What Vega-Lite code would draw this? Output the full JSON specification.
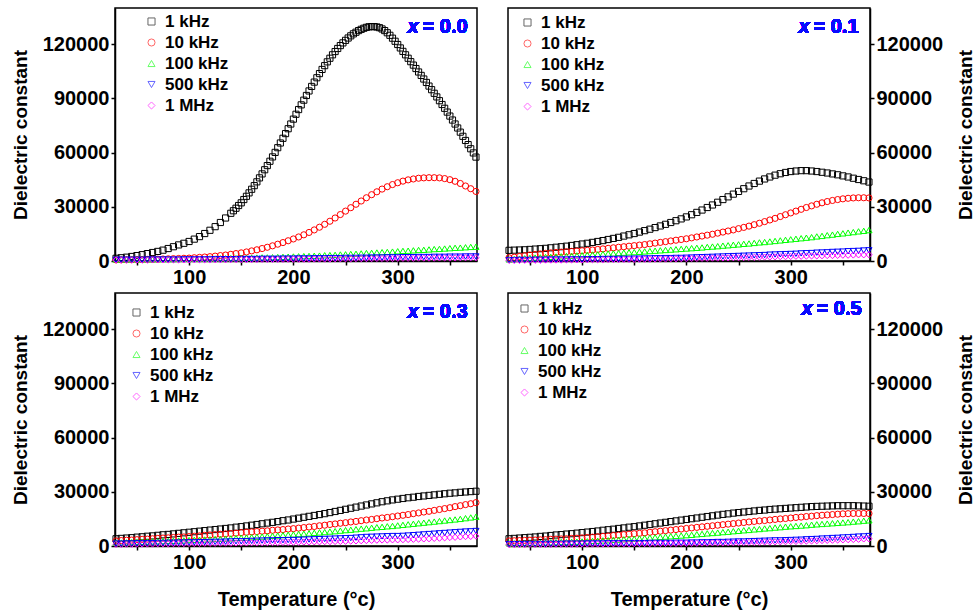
{
"$schema":"https://vega.github.io/schema/vega-lite/v6.json",
"padding":{"left":10,"top":7,"right":1,"bottom":4},
"background":"white",
"config":{
"font":"Liberation Sans",
"view":{"stroke":"#000","strokeWidth":1.5},
"axis":{"labelFont":"Liberation Sans","labelFontWeight":"bold","labelFontSize":20,"titleFont":"Liberation Sans","titleFontWeight":"bold","titleFontSize":19,"tickSize":4,"tickWidth":1.5,"domainWidth":1.5,"domainColor":"#000","tickColor":"#000","labelColor":"#000","titleColor":"#000","labelPadding":2,"grid":false,"labelFlush":false,"labelOverlap":false,"labelBound":false},
"legend":{"orient":"none","title":null,"labelFont":"Liberation Sans","labelFontWeight":"bold","labelFontSize":17,"labelColor":"#000","symbolSize":50,"symbolStrokeWidth":1,"symbolOpacity":0.6,"rowPadding":3,"labelOffset":5,"padding":0}
},
"datasets":{
"p0":[
{"f":"1 kHz","T":30,"e":1500},{"f":"1 kHz","T":35,"e":1800},{"f":"1 kHz","T":40,"e":2100},{"f":"1 kHz","T":45,"e":2500},{"f":"1 kHz","T":50,"e":3000},{"f":"1 kHz","T":55,"e":3500},{"f":"1 kHz","T":60,"e":4100},{"f":"1 kHz","T":65,"e":4700},{"f":"1 kHz","T":70,"e":5300},{"f":"1 kHz","T":75,"e":6000},
{"f":"1 kHz","T":80,"e":6900},{"f":"1 kHz","T":85,"e":7900},{"f":"1 kHz","T":90,"e":8900},{"f":"1 kHz","T":95,"e":9800},{"f":"1 kHz","T":100,"e":10800},{"f":"1 kHz","T":105,"e":12100},{"f":"1 kHz","T":110,"e":13500},{"f":"1 kHz","T":115,"e":15200},{"f":"1 kHz","T":120,"e":17000},{"f":"1 kHz","T":125,"e":19000},
{"f":"1 kHz","T":130,"e":21300},{"f":"1 kHz","T":135,"e":23800},{"f":"1 kHz","T":140,"e":26400},{"f":"1 kHz","T":145,"e":29200},{"f":"1 kHz","T":150,"e":32200},{"f":"1 kHz","T":155,"e":35800},{"f":"1 kHz","T":160,"e":39700},{"f":"1 kHz","T":165,"e":43800},{"f":"1 kHz","T":170,"e":48200},{"f":"1 kHz","T":175,"e":52800},
{"f":"1 kHz","T":180,"e":57600},{"f":"1 kHz","T":185,"e":62700},{"f":"1 kHz","T":190,"e":67900},{"f":"1 kHz","T":195,"e":73200},{"f":"1 kHz","T":200,"e":78500},{"f":"1 kHz","T":205,"e":83800},{"f":"1 kHz","T":210,"e":89000},{"f":"1 kHz","T":215,"e":94100},{"f":"1 kHz","T":220,"e":99000},{"f":"1 kHz","T":225,"e":103700},
{"f":"1 kHz","T":230,"e":108100},{"f":"1 kHz","T":235,"e":112200},{"f":"1 kHz","T":240,"e":115900},{"f":"1 kHz","T":245,"e":119200},{"f":"1 kHz","T":250,"e":122100},{"f":"1 kHz","T":255,"e":124600},{"f":"1 kHz","T":260,"e":126600},{"f":"1 kHz","T":265,"e":128200},{"f":"1 kHz","T":270,"e":129300},{"f":"1 kHz","T":275,"e":129700},
{"f":"1 kHz","T":280,"e":129500},{"f":"1 kHz","T":285,"e":128400},{"f":"1 kHz","T":290,"e":126300},{"f":"1 kHz","T":295,"e":123300},{"f":"1 kHz","T":300,"e":119800},{"f":"1 kHz","T":305,"e":116000},{"f":"1 kHz","T":310,"e":112200},{"f":"1 kHz","T":315,"e":108400},{"f":"1 kHz","T":320,"e":104600},{"f":"1 kHz","T":325,"e":100700},
{"f":"1 kHz","T":330,"e":96800},{"f":"1 kHz","T":335,"e":92800},{"f":"1 kHz","T":340,"e":88700},{"f":"1 kHz","T":345,"e":84500},{"f":"1 kHz","T":350,"e":80200},{"f":"1 kHz","T":355,"e":75800},{"f":"1 kHz","T":360,"e":71300},{"f":"1 kHz","T":365,"e":66700},{"f":"1 kHz","T":370,"e":62100},{"f":"1 kHz","T":375,"e":57500},
{"f":"1 kHz","T":142.5,"e":27800},{"f":"1 kHz","T":147.5,"e":30700},{"f":"1 kHz","T":152.5,"e":34000},{"f":"1 kHz","T":157.5,"e":37700},{"f":"1 kHz","T":162.5,"e":41700},{"f":"1 kHz","T":167.5,"e":46000},{"f":"1 kHz","T":172.5,"e":50500},{"f":"1 kHz","T":177.5,"e":55200},{"f":"1 kHz","T":182.5,"e":60100},{"f":"1 kHz","T":187.5,"e":65300},
{"f":"1 kHz","T":192.5,"e":70500},{"f":"1 kHz","T":197.5,"e":75800},{"f":"1 kHz","T":202.5,"e":81200},{"f":"1 kHz","T":207.5,"e":86400},{"f":"1 kHz","T":212.5,"e":91600},{"f":"1 kHz","T":217.5,"e":96600},{"f":"1 kHz","T":222.5,"e":101400},{"f":"1 kHz","T":227.5,"e":106000},{"f":"1 kHz","T":232.5,"e":110200},{"f":"1 kHz","T":237.5,"e":114100},
{"f":"1 kHz","T":242.5,"e":117600},{"f":"1 kHz","T":247.5,"e":120700},{"f":"1 kHz","T":252.5,"e":123400},{"f":"1 kHz","T":257.5,"e":125700},{"f":"1 kHz","T":262.5,"e":127500},{"f":"1 kHz","T":267.5,"e":128800},{"f":"1 kHz","T":272.5,"e":129600},{"f":"1 kHz","T":277.5,"e":129700},{"f":"1 kHz","T":282.5,"e":129100},{"f":"1 kHz","T":287.5,"e":127500},
{"f":"1 kHz","T":292.5,"e":124900},{"f":"1 kHz","T":297.5,"e":121600},{"f":"1 kHz","T":302.5,"e":117900},{"f":"1 kHz","T":307.5,"e":114100},{"f":"1 kHz","T":312.5,"e":110300},{"f":"1 kHz","T":317.5,"e":106500},{"f":"1 kHz","T":322.5,"e":102700},{"f":"1 kHz","T":327.5,"e":98800},{"f":"1 kHz","T":332.5,"e":94800},{"f":"1 kHz","T":337.5,"e":90800},
{"f":"1 kHz","T":342.5,"e":86600},{"f":"1 kHz","T":347.5,"e":82400},{"f":"1 kHz","T":352.5,"e":78000},{"f":"1 kHz","T":357.5,"e":73600},{"f":"1 kHz","T":362.5,"e":69000},{"f":"1 kHz","T":367.5,"e":64400},{"f":"1 kHz","T":372.5,"e":59800},
{"f":"10 kHz","T":30,"e":600},{"f":"10 kHz","T":35,"e":650},{"f":"10 kHz","T":40,"e":700},{"f":"10 kHz","T":45,"e":750},{"f":"10 kHz","T":50,"e":800},{"f":"10 kHz","T":55,"e":850},{"f":"10 kHz","T":60,"e":900},{"f":"10 kHz","T":65,"e":950},{"f":"10 kHz","T":70,"e":1000},{"f":"10 kHz","T":75,"e":1100},
{"f":"10 kHz","T":80,"e":1200},{"f":"10 kHz","T":85,"e":1300},{"f":"10 kHz","T":90,"e":1400},{"f":"10 kHz","T":95,"e":1500},{"f":"10 kHz","T":100,"e":1600},{"f":"10 kHz","T":105,"e":1800},{"f":"10 kHz","T":110,"e":2000},{"f":"10 kHz","T":115,"e":2200},{"f":"10 kHz","T":120,"e":2400},{"f":"10 kHz","T":125,"e":2700},
{"f":"10 kHz","T":130,"e":3000},{"f":"10 kHz","T":135,"e":3300},{"f":"10 kHz","T":140,"e":3700},{"f":"10 kHz","T":145,"e":4100},{"f":"10 kHz","T":150,"e":4500},{"f":"10 kHz","T":155,"e":5000},{"f":"10 kHz","T":160,"e":5600},{"f":"10 kHz","T":165,"e":6200},{"f":"10 kHz","T":170,"e":6900},{"f":"10 kHz","T":175,"e":7600},
{"f":"10 kHz","T":180,"e":8400},{"f":"10 kHz","T":185,"e":9300},{"f":"10 kHz","T":190,"e":10200},{"f":"10 kHz","T":195,"e":11200},{"f":"10 kHz","T":200,"e":12200},{"f":"10 kHz","T":205,"e":13300},{"f":"10 kHz","T":210,"e":14500},{"f":"10 kHz","T":215,"e":15800},{"f":"10 kHz","T":220,"e":17200},{"f":"10 kHz","T":225,"e":18700},
{"f":"10 kHz","T":230,"e":20300},{"f":"10 kHz","T":235,"e":22000},{"f":"10 kHz","T":240,"e":23800},{"f":"10 kHz","T":245,"e":25700},{"f":"10 kHz","T":250,"e":27600},{"f":"10 kHz","T":255,"e":29500},{"f":"10 kHz","T":260,"e":31400},{"f":"10 kHz","T":265,"e":33200},{"f":"10 kHz","T":270,"e":35000},{"f":"10 kHz","T":275,"e":36700},
{"f":"10 kHz","T":280,"e":38300},{"f":"10 kHz","T":285,"e":39800},{"f":"10 kHz","T":290,"e":41100},{"f":"10 kHz","T":295,"e":42300},{"f":"10 kHz","T":300,"e":43300},{"f":"10 kHz","T":305,"e":44200},{"f":"10 kHz","T":310,"e":44900},{"f":"10 kHz","T":315,"e":45400},{"f":"10 kHz","T":320,"e":45800},{"f":"10 kHz","T":325,"e":46000},
{"f":"10 kHz","T":330,"e":46100},{"f":"10 kHz","T":335,"e":46100},{"f":"10 kHz","T":340,"e":46000},{"f":"10 kHz","T":345,"e":45600},{"f":"10 kHz","T":350,"e":45000},{"f":"10 kHz","T":355,"e":44100},{"f":"10 kHz","T":360,"e":42900},{"f":"10 kHz","T":365,"e":41500},{"f":"10 kHz","T":370,"e":40000},{"f":"10 kHz","T":375,"e":38500},
{"f":"100 kHz","T":30,"e":900},{"f":"100 kHz","T":35,"e":900},{"f":"100 kHz","T":40,"e":900},{"f":"100 kHz","T":45,"e":1000},{"f":"100 kHz","T":50,"e":1000},{"f":"100 kHz","T":55,"e":1000},{"f":"100 kHz","T":60,"e":1000},{"f":"100 kHz","T":65,"e":1000},{"f":"100 kHz","T":70,"e":1100},{"f":"100 kHz","T":75,"e":1100},
{"f":"100 kHz","T":80,"e":1100},{"f":"100 kHz","T":85,"e":1100},{"f":"100 kHz","T":90,"e":1200},{"f":"100 kHz","T":95,"e":1200},{"f":"100 kHz","T":100,"e":1200},{"f":"100 kHz","T":105,"e":1300},{"f":"100 kHz","T":110,"e":1300},{"f":"100 kHz","T":115,"e":1300},{"f":"100 kHz","T":120,"e":1400},{"f":"100 kHz","T":125,"e":1400},
{"f":"100 kHz","T":130,"e":1500},{"f":"100 kHz","T":135,"e":1500},{"f":"100 kHz","T":140,"e":1600},{"f":"100 kHz","T":145,"e":1600},{"f":"100 kHz","T":150,"e":1700},{"f":"100 kHz","T":155,"e":1800},{"f":"100 kHz","T":160,"e":1800},{"f":"100 kHz","T":165,"e":1900},{"f":"100 kHz","T":170,"e":2000},{"f":"100 kHz","T":175,"e":2000},
{"f":"100 kHz","T":180,"e":2100},{"f":"100 kHz","T":185,"e":2200},{"f":"100 kHz","T":190,"e":2300},{"f":"100 kHz","T":195,"e":2400},{"f":"100 kHz","T":200,"e":2500},{"f":"100 kHz","T":205,"e":2600},{"f":"100 kHz","T":210,"e":2700},{"f":"100 kHz","T":215,"e":2800},{"f":"100 kHz","T":220,"e":2900},{"f":"100 kHz","T":225,"e":3000},
{"f":"100 kHz","T":230,"e":3200},{"f":"100 kHz","T":235,"e":3300},{"f":"100 kHz","T":240,"e":3400},{"f":"100 kHz","T":245,"e":3600},{"f":"100 kHz","T":250,"e":3700},{"f":"100 kHz","T":255,"e":3900},{"f":"100 kHz","T":260,"e":4000},{"f":"100 kHz","T":265,"e":4200},{"f":"100 kHz","T":270,"e":4400},{"f":"100 kHz","T":275,"e":4500},
{"f":"100 kHz","T":280,"e":4700},{"f":"100 kHz","T":285,"e":4900},{"f":"100 kHz","T":290,"e":5000},{"f":"100 kHz","T":295,"e":5200},{"f":"100 kHz","T":300,"e":5400},{"f":"100 kHz","T":305,"e":5600},{"f":"100 kHz","T":310,"e":5700},{"f":"100 kHz","T":315,"e":5900},{"f":"100 kHz","T":320,"e":6100},{"f":"100 kHz","T":325,"e":6200},
{"f":"100 kHz","T":330,"e":6400},{"f":"100 kHz","T":335,"e":6600},{"f":"100 kHz","T":340,"e":6700},{"f":"100 kHz","T":345,"e":6900},{"f":"100 kHz","T":350,"e":7100},{"f":"100 kHz","T":355,"e":7300},{"f":"100 kHz","T":360,"e":7400},{"f":"100 kHz","T":365,"e":7600},{"f":"100 kHz","T":370,"e":7800},{"f":"100 kHz","T":375,"e":7900},
{"f":"500 kHz","T":30,"e":700},{"f":"500 kHz","T":35,"e":700},{"f":"500 kHz","T":40,"e":700},{"f":"500 kHz","T":45,"e":700},{"f":"500 kHz","T":50,"e":700},{"f":"500 kHz","T":55,"e":700},{"f":"500 kHz","T":60,"e":800},{"f":"500 kHz","T":65,"e":800},{"f":"500 kHz","T":70,"e":800},{"f":"500 kHz","T":75,"e":800},
{"f":"500 kHz","T":80,"e":800},{"f":"500 kHz","T":85,"e":800},{"f":"500 kHz","T":90,"e":800},{"f":"500 kHz","T":95,"e":900},{"f":"500 kHz","T":100,"e":900},{"f":"500 kHz","T":105,"e":900},{"f":"500 kHz","T":110,"e":900},{"f":"500 kHz","T":115,"e":900},{"f":"500 kHz","T":120,"e":900},{"f":"500 kHz","T":125,"e":1000},
{"f":"500 kHz","T":130,"e":1000},{"f":"500 kHz","T":135,"e":1000},{"f":"500 kHz","T":140,"e":1000},{"f":"500 kHz","T":145,"e":1000},{"f":"500 kHz","T":150,"e":1100},{"f":"500 kHz","T":155,"e":1100},{"f":"500 kHz","T":160,"e":1100},{"f":"500 kHz","T":165,"e":1100},{"f":"500 kHz","T":170,"e":1200},{"f":"500 kHz","T":175,"e":1200},
{"f":"500 kHz","T":180,"e":1200},{"f":"500 kHz","T":185,"e":1200},{"f":"500 kHz","T":190,"e":1300},{"f":"500 kHz","T":195,"e":1300},{"f":"500 kHz","T":200,"e":1300},{"f":"500 kHz","T":205,"e":1400},{"f":"500 kHz","T":210,"e":1400},{"f":"500 kHz","T":215,"e":1400},{"f":"500 kHz","T":220,"e":1500},{"f":"500 kHz","T":225,"e":1500},
{"f":"500 kHz","T":230,"e":1500},{"f":"500 kHz","T":235,"e":1600},{"f":"500 kHz","T":240,"e":1600},{"f":"500 kHz","T":245,"e":1600},{"f":"500 kHz","T":250,"e":1700},{"f":"500 kHz","T":255,"e":1700},{"f":"500 kHz","T":260,"e":1700},{"f":"500 kHz","T":265,"e":1800},{"f":"500 kHz","T":270,"e":1800},{"f":"500 kHz","T":275,"e":1900},
{"f":"500 kHz","T":280,"e":1900},{"f":"500 kHz","T":285,"e":1900},{"f":"500 kHz","T":290,"e":2000},{"f":"500 kHz","T":295,"e":2000},{"f":"500 kHz","T":300,"e":2000},{"f":"500 kHz","T":305,"e":2100},{"f":"500 kHz","T":310,"e":2100},{"f":"500 kHz","T":315,"e":2100},{"f":"500 kHz","T":320,"e":2200},{"f":"500 kHz","T":325,"e":2200},
{"f":"500 kHz","T":330,"e":2200},{"f":"500 kHz","T":335,"e":2300},{"f":"500 kHz","T":340,"e":2300},{"f":"500 kHz","T":345,"e":2300},{"f":"500 kHz","T":350,"e":2400},{"f":"500 kHz","T":355,"e":2400},{"f":"500 kHz","T":360,"e":2400},{"f":"500 kHz","T":365,"e":2500},{"f":"500 kHz","T":370,"e":2500},{"f":"500 kHz","T":375,"e":2500},
{"f":"1 MHz","T":30,"e":500},{"f":"1 MHz","T":35,"e":500},{"f":"1 MHz","T":40,"e":500},{"f":"1 MHz","T":45,"e":500},{"f":"1 MHz","T":50,"e":500},{"f":"1 MHz","T":55,"e":500},{"f":"1 MHz","T":60,"e":500},{"f":"1 MHz","T":65,"e":600},{"f":"1 MHz","T":70,"e":600},{"f":"1 MHz","T":75,"e":600},
{"f":"1 MHz","T":80,"e":600},{"f":"1 MHz","T":85,"e":600},{"f":"1 MHz","T":90,"e":600},{"f":"1 MHz","T":95,"e":600},{"f":"1 MHz","T":100,"e":600},{"f":"1 MHz","T":105,"e":700},{"f":"1 MHz","T":110,"e":700},{"f":"1 MHz","T":115,"e":700},{"f":"1 MHz","T":120,"e":700},{"f":"1 MHz","T":125,"e":700},
{"f":"1 MHz","T":130,"e":700},{"f":"1 MHz","T":135,"e":700},{"f":"1 MHz","T":140,"e":800},{"f":"1 MHz","T":145,"e":800},{"f":"1 MHz","T":150,"e":800},{"f":"1 MHz","T":155,"e":800},{"f":"1 MHz","T":160,"e":800},{"f":"1 MHz","T":165,"e":800},{"f":"1 MHz","T":170,"e":900},{"f":"1 MHz","T":175,"e":900},
{"f":"1 MHz","T":180,"e":900},{"f":"1 MHz","T":185,"e":900},{"f":"1 MHz","T":190,"e":900},{"f":"1 MHz","T":195,"e":1000},{"f":"1 MHz","T":200,"e":1000},{"f":"1 MHz","T":205,"e":1000},{"f":"1 MHz","T":210,"e":1000},{"f":"1 MHz","T":215,"e":1000},{"f":"1 MHz","T":220,"e":1100},{"f":"1 MHz","T":225,"e":1100},
{"f":"1 MHz","T":230,"e":1100},{"f":"1 MHz","T":235,"e":1100},{"f":"1 MHz","T":240,"e":1200},{"f":"1 MHz","T":245,"e":1200},{"f":"1 MHz","T":250,"e":1200},{"f":"1 MHz","T":255,"e":1200},{"f":"1 MHz","T":260,"e":1300},{"f":"1 MHz","T":265,"e":1300},{"f":"1 MHz","T":270,"e":1300},{"f":"1 MHz","T":275,"e":1300},
{"f":"1 MHz","T":280,"e":1400},{"f":"1 MHz","T":285,"e":1400},{"f":"1 MHz","T":290,"e":1400},{"f":"1 MHz","T":295,"e":1400},{"f":"1 MHz","T":300,"e":1500},{"f":"1 MHz","T":305,"e":1500},{"f":"1 MHz","T":310,"e":1500},{"f":"1 MHz","T":315,"e":1500},{"f":"1 MHz","T":320,"e":1600},{"f":"1 MHz","T":325,"e":1600},
{"f":"1 MHz","T":330,"e":1600},{"f":"1 MHz","T":335,"e":1600},{"f":"1 MHz","T":340,"e":1700},{"f":"1 MHz","T":345,"e":1700},{"f":"1 MHz","T":350,"e":1700},{"f":"1 MHz","T":355,"e":1700},{"f":"1 MHz","T":360,"e":1800},{"f":"1 MHz","T":365,"e":1800},{"f":"1 MHz","T":370,"e":1800},{"f":"1 MHz","T":375,"e":1800}
],
"p1":[
{"f":"1 kHz","T":30,"e":5900},{"f":"1 kHz","T":35,"e":6000},{"f":"1 kHz","T":40,"e":6100},{"f":"1 kHz","T":45,"e":6200},{"f":"1 kHz","T":50,"e":6400},{"f":"1 kHz","T":55,"e":6600},{"f":"1 kHz","T":60,"e":6800},{"f":"1 kHz","T":65,"e":7000},{"f":"1 kHz","T":70,"e":7300},{"f":"1 kHz","T":75,"e":7600},
{"f":"1 kHz","T":80,"e":7900},{"f":"1 kHz","T":85,"e":8200},{"f":"1 kHz","T":90,"e":8600},{"f":"1 kHz","T":95,"e":9000},{"f":"1 kHz","T":100,"e":9400},{"f":"1 kHz","T":105,"e":9800},{"f":"1 kHz","T":110,"e":10300},{"f":"1 kHz","T":115,"e":10800},{"f":"1 kHz","T":120,"e":11300},{"f":"1 kHz","T":125,"e":11900},
{"f":"1 kHz","T":130,"e":12500},{"f":"1 kHz","T":135,"e":13100},{"f":"1 kHz","T":140,"e":13800},{"f":"1 kHz","T":145,"e":14500},{"f":"1 kHz","T":150,"e":15200},{"f":"1 kHz","T":155,"e":16000},{"f":"1 kHz","T":160,"e":16800},{"f":"1 kHz","T":165,"e":17600},{"f":"1 kHz","T":170,"e":18500},{"f":"1 kHz","T":175,"e":19400},
{"f":"1 kHz","T":180,"e":20300},{"f":"1 kHz","T":185,"e":21300},{"f":"1 kHz","T":190,"e":22300},{"f":"1 kHz","T":195,"e":23300},{"f":"1 kHz","T":200,"e":24400},{"f":"1 kHz","T":205,"e":25600},{"f":"1 kHz","T":210,"e":26900},{"f":"1 kHz","T":215,"e":28200},{"f":"1 kHz","T":220,"e":29600},{"f":"1 kHz","T":225,"e":31000},
{"f":"1 kHz","T":230,"e":32500},{"f":"1 kHz","T":235,"e":34000},{"f":"1 kHz","T":240,"e":35500},{"f":"1 kHz","T":245,"e":37000},{"f":"1 kHz","T":250,"e":38500},{"f":"1 kHz","T":255,"e":40000},{"f":"1 kHz","T":260,"e":41500},{"f":"1 kHz","T":265,"e":42900},{"f":"1 kHz","T":270,"e":44200},{"f":"1 kHz","T":275,"e":45400},
{"f":"1 kHz","T":280,"e":46500},{"f":"1 kHz","T":285,"e":47500},{"f":"1 kHz","T":290,"e":48300},{"f":"1 kHz","T":295,"e":49000},{"f":"1 kHz","T":300,"e":49500},{"f":"1 kHz","T":305,"e":49800},{"f":"1 kHz","T":310,"e":50000},{"f":"1 kHz","T":315,"e":50000},{"f":"1 kHz","T":320,"e":49800},{"f":"1 kHz","T":325,"e":49500},
{"f":"1 kHz","T":330,"e":49100},{"f":"1 kHz","T":335,"e":48700},{"f":"1 kHz","T":340,"e":48200},{"f":"1 kHz","T":345,"e":47700},{"f":"1 kHz","T":350,"e":47100},{"f":"1 kHz","T":355,"e":46500},{"f":"1 kHz","T":360,"e":45800},{"f":"1 kHz","T":365,"e":45100},{"f":"1 kHz","T":370,"e":44400},{"f":"1 kHz","T":375,"e":43700},
{"f":"10 kHz","T":30,"e":1800},{"f":"10 kHz","T":35,"e":2100},{"f":"10 kHz","T":40,"e":2500},{"f":"10 kHz","T":45,"e":2900},{"f":"10 kHz","T":50,"e":3300},{"f":"10 kHz","T":55,"e":3600},{"f":"10 kHz","T":60,"e":3900},{"f":"10 kHz","T":65,"e":4200},{"f":"10 kHz","T":70,"e":4500},{"f":"10 kHz","T":75,"e":4700},
{"f":"10 kHz","T":80,"e":4900},{"f":"10 kHz","T":85,"e":5100},{"f":"10 kHz","T":90,"e":5300},{"f":"10 kHz","T":95,"e":5500},{"f":"10 kHz","T":100,"e":5700},{"f":"10 kHz","T":105,"e":5900},{"f":"10 kHz","T":110,"e":6100},{"f":"10 kHz","T":115,"e":6400},{"f":"10 kHz","T":120,"e":6700},{"f":"10 kHz","T":125,"e":7000},
{"f":"10 kHz","T":130,"e":7300},{"f":"10 kHz","T":135,"e":7600},{"f":"10 kHz","T":140,"e":7900},{"f":"10 kHz","T":145,"e":8200},{"f":"10 kHz","T":150,"e":8500},{"f":"10 kHz","T":155,"e":8800},{"f":"10 kHz","T":160,"e":9100},{"f":"10 kHz","T":165,"e":9500},{"f":"10 kHz","T":170,"e":9900},{"f":"10 kHz","T":175,"e":10300},
{"f":"10 kHz","T":180,"e":10700},{"f":"10 kHz","T":185,"e":11100},{"f":"10 kHz","T":190,"e":11500},{"f":"10 kHz","T":195,"e":11900},{"f":"10 kHz","T":200,"e":12300},{"f":"10 kHz","T":205,"e":12800},{"f":"10 kHz","T":210,"e":13300},{"f":"10 kHz","T":215,"e":13800},{"f":"10 kHz","T":220,"e":14300},{"f":"10 kHz","T":225,"e":14800},
{"f":"10 kHz","T":230,"e":15400},{"f":"10 kHz","T":235,"e":16000},{"f":"10 kHz","T":240,"e":16600},{"f":"10 kHz","T":245,"e":17200},{"f":"10 kHz","T":250,"e":17900},{"f":"10 kHz","T":255,"e":18600},{"f":"10 kHz","T":260,"e":19300},{"f":"10 kHz","T":265,"e":20100},{"f":"10 kHz","T":270,"e":20900},{"f":"10 kHz","T":275,"e":21800},
{"f":"10 kHz","T":280,"e":22700},{"f":"10 kHz","T":285,"e":23600},{"f":"10 kHz","T":290,"e":24600},{"f":"10 kHz","T":295,"e":25600},{"f":"10 kHz","T":300,"e":26600},{"f":"10 kHz","T":305,"e":27600},{"f":"10 kHz","T":310,"e":28600},{"f":"10 kHz","T":315,"e":29600},{"f":"10 kHz","T":320,"e":30500},{"f":"10 kHz","T":325,"e":31400},
{"f":"10 kHz","T":330,"e":32200},{"f":"10 kHz","T":335,"e":32900},{"f":"10 kHz","T":340,"e":33500},{"f":"10 kHz","T":345,"e":34000},{"f":"10 kHz","T":350,"e":34400},{"f":"10 kHz","T":355,"e":34700},{"f":"10 kHz","T":360,"e":34900},{"f":"10 kHz","T":365,"e":35000},{"f":"10 kHz","T":370,"e":35000},{"f":"10 kHz","T":375,"e":34900},
{"f":"100 kHz","T":30,"e":900},{"f":"100 kHz","T":35,"e":1100},{"f":"100 kHz","T":40,"e":1300},{"f":"100 kHz","T":45,"e":1500},{"f":"100 kHz","T":50,"e":1700},{"f":"100 kHz","T":55,"e":1900},{"f":"100 kHz","T":60,"e":2000},{"f":"100 kHz","T":65,"e":2200},{"f":"100 kHz","T":70,"e":2300},{"f":"100 kHz","T":75,"e":2500},
{"f":"100 kHz","T":80,"e":2600},{"f":"100 kHz","T":85,"e":2800},{"f":"100 kHz","T":90,"e":2900},{"f":"100 kHz","T":95,"e":3100},{"f":"100 kHz","T":100,"e":3200},{"f":"100 kHz","T":105,"e":3400},{"f":"100 kHz","T":110,"e":3600},{"f":"100 kHz","T":115,"e":3700},{"f":"100 kHz","T":120,"e":3900},{"f":"100 kHz","T":125,"e":4100},
{"f":"100 kHz","T":130,"e":4200},{"f":"100 kHz","T":135,"e":4400},{"f":"100 kHz","T":140,"e":4600},{"f":"100 kHz","T":145,"e":4800},{"f":"100 kHz","T":150,"e":4900},{"f":"100 kHz","T":155,"e":5100},{"f":"100 kHz","T":160,"e":5300},{"f":"100 kHz","T":165,"e":5500},{"f":"100 kHz","T":170,"e":5700},{"f":"100 kHz","T":175,"e":5900},
{"f":"100 kHz","T":180,"e":6100},{"f":"100 kHz","T":185,"e":6300},{"f":"100 kHz","T":190,"e":6500},{"f":"100 kHz","T":195,"e":6700},{"f":"100 kHz","T":200,"e":6900},{"f":"100 kHz","T":205,"e":7100},{"f":"100 kHz","T":210,"e":7300},{"f":"100 kHz","T":215,"e":7500},{"f":"100 kHz","T":220,"e":7800},{"f":"100 kHz","T":225,"e":8000},
{"f":"100 kHz","T":230,"e":8200},{"f":"100 kHz","T":235,"e":8500},{"f":"100 kHz","T":240,"e":8700},{"f":"100 kHz","T":245,"e":9000},{"f":"100 kHz","T":250,"e":9200},{"f":"100 kHz","T":255,"e":9500},{"f":"100 kHz","T":260,"e":9700},{"f":"100 kHz","T":265,"e":10000},{"f":"100 kHz","T":270,"e":10300},{"f":"100 kHz","T":275,"e":10500},
{"f":"100 kHz","T":280,"e":10800},{"f":"100 kHz","T":285,"e":11100},{"f":"100 kHz","T":290,"e":11400},{"f":"100 kHz","T":295,"e":11700},{"f":"100 kHz","T":300,"e":12000},{"f":"100 kHz","T":305,"e":12300},{"f":"100 kHz","T":310,"e":12600},{"f":"100 kHz","T":315,"e":12900},{"f":"100 kHz","T":320,"e":13200},{"f":"100 kHz","T":325,"e":13600},
{"f":"100 kHz","T":330,"e":13900},{"f":"100 kHz","T":335,"e":14300},{"f":"100 kHz","T":340,"e":14600},{"f":"100 kHz","T":345,"e":15000},{"f":"100 kHz","T":350,"e":15300},{"f":"100 kHz","T":355,"e":15700},{"f":"100 kHz","T":360,"e":16000},{"f":"100 kHz","T":365,"e":16400},{"f":"100 kHz","T":370,"e":16700},{"f":"100 kHz","T":375,"e":17100},
{"f":"500 kHz","T":30,"e":500},{"f":"500 kHz","T":35,"e":500},{"f":"500 kHz","T":40,"e":600},{"f":"500 kHz","T":45,"e":600},{"f":"500 kHz","T":50,"e":600},{"f":"500 kHz","T":55,"e":700},{"f":"500 kHz","T":60,"e":700},{"f":"500 kHz","T":65,"e":700},{"f":"500 kHz","T":70,"e":800},{"f":"500 kHz","T":75,"e":800},
{"f":"500 kHz","T":80,"e":800},{"f":"500 kHz","T":85,"e":800},{"f":"500 kHz","T":90,"e":900},{"f":"500 kHz","T":95,"e":900},{"f":"500 kHz","T":100,"e":900},{"f":"500 kHz","T":105,"e":1000},{"f":"500 kHz","T":110,"e":1000},{"f":"500 kHz","T":115,"e":1000},{"f":"500 kHz","T":120,"e":1100},{"f":"500 kHz","T":125,"e":1100},
{"f":"500 kHz","T":130,"e":1100},{"f":"500 kHz","T":135,"e":1200},{"f":"500 kHz","T":140,"e":1200},{"f":"500 kHz","T":145,"e":1200},{"f":"500 kHz","T":150,"e":1300},{"f":"500 kHz","T":155,"e":1300},{"f":"500 kHz","T":160,"e":1400},{"f":"500 kHz","T":165,"e":1400},{"f":"500 kHz","T":170,"e":1500},{"f":"500 kHz","T":175,"e":1500},
{"f":"500 kHz","T":180,"e":1600},{"f":"500 kHz","T":185,"e":1600},{"f":"500 kHz","T":190,"e":1700},{"f":"500 kHz","T":195,"e":1700},{"f":"500 kHz","T":200,"e":1800},{"f":"500 kHz","T":205,"e":1900},{"f":"500 kHz","T":210,"e":2000},{"f":"500 kHz","T":215,"e":2100},{"f":"500 kHz","T":220,"e":2200},{"f":"500 kHz","T":225,"e":2300},
{"f":"500 kHz","T":230,"e":2400},{"f":"500 kHz","T":235,"e":2500},{"f":"500 kHz","T":240,"e":2600},{"f":"500 kHz","T":245,"e":2700},{"f":"500 kHz","T":250,"e":2800},{"f":"500 kHz","T":255,"e":2900},{"f":"500 kHz","T":260,"e":3000},{"f":"500 kHz","T":265,"e":3100},{"f":"500 kHz","T":270,"e":3200},{"f":"500 kHz","T":275,"e":3300},
{"f":"500 kHz","T":280,"e":3500},{"f":"500 kHz","T":285,"e":3600},{"f":"500 kHz","T":290,"e":3700},{"f":"500 kHz","T":295,"e":3800},{"f":"500 kHz","T":300,"e":3900},{"f":"500 kHz","T":305,"e":4000},{"f":"500 kHz","T":310,"e":4200},{"f":"500 kHz","T":315,"e":4300},{"f":"500 kHz","T":320,"e":4400},{"f":"500 kHz","T":325,"e":4600},
{"f":"500 kHz","T":330,"e":4700},{"f":"500 kHz","T":335,"e":4800},{"f":"500 kHz","T":340,"e":5000},{"f":"500 kHz","T":345,"e":5100},{"f":"500 kHz","T":350,"e":5200},{"f":"500 kHz","T":355,"e":5400},{"f":"500 kHz","T":360,"e":5500},{"f":"500 kHz","T":365,"e":5600},{"f":"500 kHz","T":370,"e":5800},{"f":"500 kHz","T":375,"e":5900},
{"f":"1 MHz","T":30,"e":300},{"f":"1 MHz","T":35,"e":300},{"f":"1 MHz","T":40,"e":300},{"f":"1 MHz","T":45,"e":400},{"f":"1 MHz","T":50,"e":400},{"f":"1 MHz","T":55,"e":400},{"f":"1 MHz","T":60,"e":400},{"f":"1 MHz","T":65,"e":500},{"f":"1 MHz","T":70,"e":500},{"f":"1 MHz","T":75,"e":500},
{"f":"1 MHz","T":80,"e":500},{"f":"1 MHz","T":85,"e":600},{"f":"1 MHz","T":90,"e":600},{"f":"1 MHz","T":95,"e":600},{"f":"1 MHz","T":100,"e":600},{"f":"1 MHz","T":105,"e":700},{"f":"1 MHz","T":110,"e":700},{"f":"1 MHz","T":115,"e":700},{"f":"1 MHz","T":120,"e":700},{"f":"1 MHz","T":125,"e":800},
{"f":"1 MHz","T":130,"e":800},{"f":"1 MHz","T":135,"e":800},{"f":"1 MHz","T":140,"e":900},{"f":"1 MHz","T":145,"e":900},{"f":"1 MHz","T":150,"e":900},{"f":"1 MHz","T":155,"e":1000},{"f":"1 MHz","T":160,"e":1000},{"f":"1 MHz","T":165,"e":1000},{"f":"1 MHz","T":170,"e":1100},{"f":"1 MHz","T":175,"e":1100},
{"f":"1 MHz","T":180,"e":1100},{"f":"1 MHz","T":185,"e":1200},{"f":"1 MHz","T":190,"e":1200},{"f":"1 MHz","T":195,"e":1300},{"f":"1 MHz","T":200,"e":1300},{"f":"1 MHz","T":205,"e":1400},{"f":"1 MHz","T":210,"e":1400},{"f":"1 MHz","T":215,"e":1500},{"f":"1 MHz","T":220,"e":1500},{"f":"1 MHz","T":225,"e":1600},
{"f":"1 MHz","T":230,"e":1600},{"f":"1 MHz","T":235,"e":1700},{"f":"1 MHz","T":240,"e":1700},{"f":"1 MHz","T":245,"e":1800},{"f":"1 MHz","T":250,"e":1800},{"f":"1 MHz","T":255,"e":1900},{"f":"1 MHz","T":260,"e":2000},{"f":"1 MHz","T":265,"e":2000},{"f":"1 MHz","T":270,"e":2100},{"f":"1 MHz","T":275,"e":2200},
{"f":"1 MHz","T":280,"e":2200},{"f":"1 MHz","T":285,"e":2300},{"f":"1 MHz","T":290,"e":2400},{"f":"1 MHz","T":295,"e":2400},{"f":"1 MHz","T":300,"e":2500},{"f":"1 MHz","T":305,"e":2600},{"f":"1 MHz","T":310,"e":2600},{"f":"1 MHz","T":315,"e":2700},{"f":"1 MHz","T":320,"e":2800},{"f":"1 MHz","T":325,"e":2800},
{"f":"1 MHz","T":330,"e":2900},{"f":"1 MHz","T":335,"e":3000},{"f":"1 MHz","T":340,"e":3000},{"f":"1 MHz","T":345,"e":3100},{"f":"1 MHz","T":350,"e":3200},{"f":"1 MHz","T":355,"e":3200},{"f":"1 MHz","T":360,"e":3300},{"f":"1 MHz","T":365,"e":3400},{"f":"1 MHz","T":370,"e":3400},{"f":"1 MHz","T":375,"e":3500}
],
"p2":[
{"f":"1 kHz","T":30,"e":4000},{"f":"1 kHz","T":35,"e":4200},{"f":"1 kHz","T":40,"e":4400},{"f":"1 kHz","T":45,"e":4600},{"f":"1 kHz","T":50,"e":4900},{"f":"1 kHz","T":55,"e":5100},{"f":"1 kHz","T":60,"e":5400},{"f":"1 kHz","T":65,"e":5600},{"f":"1 kHz","T":70,"e":5900},{"f":"1 kHz","T":75,"e":6200},
{"f":"1 kHz","T":80,"e":6400},{"f":"1 kHz","T":85,"e":6700},{"f":"1 kHz","T":90,"e":7000},{"f":"1 kHz","T":95,"e":7300},{"f":"1 kHz","T":100,"e":7600},{"f":"1 kHz","T":105,"e":7900},{"f":"1 kHz","T":110,"e":8200},{"f":"1 kHz","T":115,"e":8500},{"f":"1 kHz","T":120,"e":8800},{"f":"1 kHz","T":125,"e":9100},
{"f":"1 kHz","T":130,"e":9400},{"f":"1 kHz","T":135,"e":9700},{"f":"1 kHz","T":140,"e":10000},{"f":"1 kHz","T":145,"e":10400},{"f":"1 kHz","T":150,"e":10700},{"f":"1 kHz","T":155,"e":11100},{"f":"1 kHz","T":160,"e":11500},{"f":"1 kHz","T":165,"e":11900},{"f":"1 kHz","T":170,"e":12300},{"f":"1 kHz","T":175,"e":12700},
{"f":"1 kHz","T":180,"e":13100},{"f":"1 kHz","T":185,"e":13500},{"f":"1 kHz","T":190,"e":14000},{"f":"1 kHz","T":195,"e":14400},{"f":"1 kHz","T":200,"e":14900},{"f":"1 kHz","T":205,"e":15400},{"f":"1 kHz","T":210,"e":15900},{"f":"1 kHz","T":215,"e":16400},{"f":"1 kHz","T":220,"e":16900},{"f":"1 kHz","T":225,"e":17400},
{"f":"1 kHz","T":230,"e":17900},{"f":"1 kHz","T":235,"e":18500},{"f":"1 kHz","T":240,"e":19100},{"f":"1 kHz","T":245,"e":19700},{"f":"1 kHz","T":250,"e":20300},{"f":"1 kHz","T":255,"e":20900},{"f":"1 kHz","T":260,"e":21500},{"f":"1 kHz","T":265,"e":22100},{"f":"1 kHz","T":270,"e":22700},{"f":"1 kHz","T":275,"e":23300},
{"f":"1 kHz","T":280,"e":23900},{"f":"1 kHz","T":285,"e":24500},{"f":"1 kHz","T":290,"e":25000},{"f":"1 kHz","T":295,"e":25500},{"f":"1 kHz","T":300,"e":25900},{"f":"1 kHz","T":305,"e":26300},{"f":"1 kHz","T":310,"e":26700},{"f":"1 kHz","T":315,"e":27000},{"f":"1 kHz","T":320,"e":27400},{"f":"1 kHz","T":325,"e":27700},
{"f":"1 kHz","T":330,"e":28000},{"f":"1 kHz","T":335,"e":28300},{"f":"1 kHz","T":340,"e":28600},{"f":"1 kHz","T":345,"e":28900},{"f":"1 kHz","T":350,"e":29200},{"f":"1 kHz","T":355,"e":29400},{"f":"1 kHz","T":360,"e":29700},{"f":"1 kHz","T":365,"e":29900},{"f":"1 kHz","T":370,"e":30100},{"f":"1 kHz","T":375,"e":30300},
{"f":"10 kHz","T":30,"e":2800},{"f":"10 kHz","T":35,"e":3000},{"f":"10 kHz","T":40,"e":3200},{"f":"10 kHz","T":45,"e":3300},{"f":"10 kHz","T":50,"e":3500},{"f":"10 kHz","T":55,"e":3700},{"f":"10 kHz","T":60,"e":3800},{"f":"10 kHz","T":65,"e":4000},{"f":"10 kHz","T":70,"e":4200},{"f":"10 kHz","T":75,"e":4400},
{"f":"10 kHz","T":80,"e":4500},{"f":"10 kHz","T":85,"e":4700},{"f":"10 kHz","T":90,"e":4900},{"f":"10 kHz","T":95,"e":5000},{"f":"10 kHz","T":100,"e":5200},{"f":"10 kHz","T":105,"e":5400},{"f":"10 kHz","T":110,"e":5600},{"f":"10 kHz","T":115,"e":5900},{"f":"10 kHz","T":120,"e":6100},{"f":"10 kHz","T":125,"e":6300},
{"f":"10 kHz","T":130,"e":6500},{"f":"10 kHz","T":135,"e":6700},{"f":"10 kHz","T":140,"e":6900},{"f":"10 kHz","T":145,"e":7100},{"f":"10 kHz","T":150,"e":7400},{"f":"10 kHz","T":155,"e":7600},{"f":"10 kHz","T":160,"e":7800},{"f":"10 kHz","T":165,"e":8000},{"f":"10 kHz","T":170,"e":8200},{"f":"10 kHz","T":175,"e":8400},
{"f":"10 kHz","T":180,"e":8700},{"f":"10 kHz","T":185,"e":8900},{"f":"10 kHz","T":190,"e":9100},{"f":"10 kHz","T":195,"e":9400},{"f":"10 kHz","T":200,"e":9600},{"f":"10 kHz","T":205,"e":9900},{"f":"10 kHz","T":210,"e":10200},{"f":"10 kHz","T":215,"e":10500},{"f":"10 kHz","T":220,"e":10800},{"f":"10 kHz","T":225,"e":11200},
{"f":"10 kHz","T":230,"e":11500},{"f":"10 kHz","T":235,"e":11900},{"f":"10 kHz","T":240,"e":12200},{"f":"10 kHz","T":245,"e":12600},{"f":"10 kHz","T":250,"e":12900},{"f":"10 kHz","T":255,"e":13300},{"f":"10 kHz","T":260,"e":13600},{"f":"10 kHz","T":265,"e":14000},{"f":"10 kHz","T":270,"e":14400},{"f":"10 kHz","T":275,"e":14700},
{"f":"10 kHz","T":280,"e":15100},{"f":"10 kHz","T":285,"e":15500},{"f":"10 kHz","T":290,"e":15800},{"f":"10 kHz","T":295,"e":16200},{"f":"10 kHz","T":300,"e":16600},{"f":"10 kHz","T":305,"e":17000},{"f":"10 kHz","T":310,"e":17400},{"f":"10 kHz","T":315,"e":17900},{"f":"10 kHz","T":320,"e":18300},{"f":"10 kHz","T":325,"e":18800},
{"f":"10 kHz","T":330,"e":19200},{"f":"10 kHz","T":335,"e":19700},{"f":"10 kHz","T":340,"e":20200},{"f":"10 kHz","T":345,"e":20700},{"f":"10 kHz","T":350,"e":21200},{"f":"10 kHz","T":355,"e":21800},{"f":"10 kHz","T":360,"e":22300},{"f":"10 kHz","T":365,"e":22900},{"f":"10 kHz","T":370,"e":23400},{"f":"10 kHz","T":375,"e":24000},
{"f":"100 kHz","T":30,"e":1800},{"f":"100 kHz","T":35,"e":1900},{"f":"100 kHz","T":40,"e":2000},{"f":"100 kHz","T":45,"e":2100},{"f":"100 kHz","T":50,"e":2200},{"f":"100 kHz","T":55,"e":2300},{"f":"100 kHz","T":60,"e":2400},{"f":"100 kHz","T":65,"e":2500},{"f":"100 kHz","T":70,"e":2600},{"f":"100 kHz","T":75,"e":2700},
{"f":"100 kHz","T":80,"e":2800},{"f":"100 kHz","T":85,"e":2900},{"f":"100 kHz","T":90,"e":3000},{"f":"100 kHz","T":95,"e":3100},{"f":"100 kHz","T":100,"e":3300},{"f":"100 kHz","T":105,"e":3400},{"f":"100 kHz","T":110,"e":3500},{"f":"100 kHz","T":115,"e":3600},{"f":"100 kHz","T":120,"e":3700},{"f":"100 kHz","T":125,"e":3900},
{"f":"100 kHz","T":130,"e":4000},{"f":"100 kHz","T":135,"e":4100},{"f":"100 kHz","T":140,"e":4200},{"f":"100 kHz","T":145,"e":4400},{"f":"100 kHz","T":150,"e":4600},{"f":"100 kHz","T":155,"e":4700},{"f":"100 kHz","T":160,"e":4900},{"f":"100 kHz","T":165,"e":5100},{"f":"100 kHz","T":170,"e":5200},{"f":"100 kHz","T":175,"e":5400},
{"f":"100 kHz","T":180,"e":5600},{"f":"100 kHz","T":185,"e":5800},{"f":"100 kHz","T":190,"e":6000},{"f":"100 kHz","T":195,"e":6200},{"f":"100 kHz","T":200,"e":6400},{"f":"100 kHz","T":205,"e":6600},{"f":"100 kHz","T":210,"e":6800},{"f":"100 kHz","T":215,"e":7000},{"f":"100 kHz","T":220,"e":7300},{"f":"100 kHz","T":225,"e":7500},
{"f":"100 kHz","T":230,"e":7700},{"f":"100 kHz","T":235,"e":8000},{"f":"100 kHz","T":240,"e":8200},{"f":"100 kHz","T":245,"e":8500},{"f":"100 kHz","T":250,"e":8800},{"f":"100 kHz","T":255,"e":9000},{"f":"100 kHz","T":260,"e":9300},{"f":"100 kHz","T":265,"e":9600},{"f":"100 kHz","T":270,"e":9800},{"f":"100 kHz","T":275,"e":10100},
{"f":"100 kHz","T":280,"e":10400},{"f":"100 kHz","T":285,"e":10600},{"f":"100 kHz","T":290,"e":10900},{"f":"100 kHz","T":295,"e":11100},{"f":"100 kHz","T":300,"e":11400},{"f":"100 kHz","T":305,"e":11700},{"f":"100 kHz","T":310,"e":12000},{"f":"100 kHz","T":315,"e":12300},{"f":"100 kHz","T":320,"e":12600},{"f":"100 kHz","T":325,"e":12900},
{"f":"100 kHz","T":330,"e":13200},{"f":"100 kHz","T":335,"e":13500},{"f":"100 kHz","T":340,"e":13800},{"f":"100 kHz","T":345,"e":14100},{"f":"100 kHz","T":350,"e":14400},{"f":"100 kHz","T":355,"e":14700},{"f":"100 kHz","T":360,"e":15000},{"f":"100 kHz","T":365,"e":15400},{"f":"100 kHz","T":370,"e":15800},{"f":"100 kHz","T":375,"e":16200},
{"f":"500 kHz","T":30,"e":1300},{"f":"500 kHz","T":35,"e":1300},{"f":"500 kHz","T":40,"e":1400},{"f":"500 kHz","T":45,"e":1400},{"f":"500 kHz","T":50,"e":1500},{"f":"500 kHz","T":55,"e":1500},{"f":"500 kHz","T":60,"e":1600},{"f":"500 kHz","T":65,"e":1600},{"f":"500 kHz","T":70,"e":1700},{"f":"500 kHz","T":75,"e":1700},
{"f":"500 kHz","T":80,"e":1800},{"f":"500 kHz","T":85,"e":1800},{"f":"500 kHz","T":90,"e":1900},{"f":"500 kHz","T":95,"e":1900},{"f":"500 kHz","T":100,"e":2000},{"f":"500 kHz","T":105,"e":2000},{"f":"500 kHz","T":110,"e":2100},{"f":"500 kHz","T":115,"e":2100},{"f":"500 kHz","T":120,"e":2200},{"f":"500 kHz","T":125,"e":2300},
{"f":"500 kHz","T":130,"e":2300},{"f":"500 kHz","T":135,"e":2400},{"f":"500 kHz","T":140,"e":2500},{"f":"500 kHz","T":145,"e":2600},{"f":"500 kHz","T":150,"e":2600},{"f":"500 kHz","T":155,"e":2700},{"f":"500 kHz","T":160,"e":2800},{"f":"500 kHz","T":165,"e":2900},{"f":"500 kHz","T":170,"e":3000},{"f":"500 kHz","T":175,"e":3100},
{"f":"500 kHz","T":180,"e":3100},{"f":"500 kHz","T":185,"e":3200},{"f":"500 kHz","T":190,"e":3200},{"f":"500 kHz","T":195,"e":3300},{"f":"500 kHz","T":200,"e":3300},{"f":"500 kHz","T":205,"e":3400},{"f":"500 kHz","T":210,"e":3500},{"f":"500 kHz","T":215,"e":3600},{"f":"500 kHz","T":220,"e":3700},{"f":"500 kHz","T":225,"e":3800},
{"f":"500 kHz","T":230,"e":3900},{"f":"500 kHz","T":235,"e":4000},{"f":"500 kHz","T":240,"e":4100},{"f":"500 kHz","T":245,"e":4200},{"f":"500 kHz","T":250,"e":4300},{"f":"500 kHz","T":255,"e":4400},{"f":"500 kHz","T":260,"e":4600},{"f":"500 kHz","T":265,"e":4800},{"f":"500 kHz","T":270,"e":5000},{"f":"500 kHz","T":275,"e":5100},
{"f":"500 kHz","T":280,"e":5200},{"f":"500 kHz","T":285,"e":5300},{"f":"500 kHz","T":290,"e":5400},{"f":"500 kHz","T":295,"e":5500},{"f":"500 kHz","T":300,"e":5500},{"f":"500 kHz","T":305,"e":5600},{"f":"500 kHz","T":310,"e":5800},{"f":"500 kHz","T":315,"e":6000},{"f":"500 kHz","T":320,"e":6200},{"f":"500 kHz","T":325,"e":6400},
{"f":"500 kHz","T":330,"e":6600},{"f":"500 kHz","T":335,"e":6800},{"f":"500 kHz","T":340,"e":7000},{"f":"500 kHz","T":345,"e":7200},{"f":"500 kHz","T":350,"e":7400},{"f":"500 kHz","T":355,"e":7600},{"f":"500 kHz","T":360,"e":7800},{"f":"500 kHz","T":365,"e":8000},{"f":"500 kHz","T":370,"e":8100},{"f":"500 kHz","T":375,"e":8300},
{"f":"1 MHz","T":30,"e":900},{"f":"1 MHz","T":35,"e":900},{"f":"1 MHz","T":40,"e":1000},{"f":"1 MHz","T":45,"e":1000},{"f":"1 MHz","T":50,"e":1000},{"f":"1 MHz","T":55,"e":1100},{"f":"1 MHz","T":60,"e":1100},{"f":"1 MHz","T":65,"e":1100},{"f":"1 MHz","T":70,"e":1200},{"f":"1 MHz","T":75,"e":1200},
{"f":"1 MHz","T":80,"e":1200},{"f":"1 MHz","T":85,"e":1300},{"f":"1 MHz","T":90,"e":1300},{"f":"1 MHz","T":95,"e":1300},{"f":"1 MHz","T":100,"e":1400},{"f":"1 MHz","T":105,"e":1400},{"f":"1 MHz","T":110,"e":1400},{"f":"1 MHz","T":115,"e":1500},{"f":"1 MHz","T":120,"e":1500},{"f":"1 MHz","T":125,"e":1500},
{"f":"1 MHz","T":130,"e":1600},{"f":"1 MHz","T":135,"e":1600},{"f":"1 MHz","T":140,"e":1600},{"f":"1 MHz","T":145,"e":1700},{"f":"1 MHz","T":150,"e":1700},{"f":"1 MHz","T":155,"e":1700},{"f":"1 MHz","T":160,"e":1800},{"f":"1 MHz","T":165,"e":1800},{"f":"1 MHz","T":170,"e":1800},{"f":"1 MHz","T":175,"e":1900},
{"f":"1 MHz","T":180,"e":1900},{"f":"1 MHz","T":185,"e":1900},{"f":"1 MHz","T":190,"e":2000},{"f":"1 MHz","T":195,"e":2000},{"f":"1 MHz","T":200,"e":2100},{"f":"1 MHz","T":205,"e":2100},{"f":"1 MHz","T":210,"e":2200},{"f":"1 MHz","T":215,"e":2200},{"f":"1 MHz","T":220,"e":2300},{"f":"1 MHz","T":225,"e":2300},
{"f":"1 MHz","T":230,"e":2400},{"f":"1 MHz","T":235,"e":2400},{"f":"1 MHz","T":240,"e":2500},{"f":"1 MHz","T":245,"e":2500},{"f":"1 MHz","T":250,"e":2600},{"f":"1 MHz","T":255,"e":2700},{"f":"1 MHz","T":260,"e":2800},{"f":"1 MHz","T":265,"e":2900},{"f":"1 MHz","T":270,"e":3000},{"f":"1 MHz","T":275,"e":3100},
{"f":"1 MHz","T":280,"e":3200},{"f":"1 MHz","T":285,"e":3300},{"f":"1 MHz","T":290,"e":3300},{"f":"1 MHz","T":295,"e":3400},{"f":"1 MHz","T":300,"e":3400},{"f":"1 MHz","T":305,"e":3500},{"f":"1 MHz","T":310,"e":3600},{"f":"1 MHz","T":315,"e":3700},{"f":"1 MHz","T":320,"e":3800},{"f":"1 MHz","T":325,"e":3900},
{"f":"1 MHz","T":330,"e":4000},{"f":"1 MHz","T":335,"e":4200},{"f":"1 MHz","T":340,"e":4300},{"f":"1 MHz","T":345,"e":4500},{"f":"1 MHz","T":350,"e":4700},{"f":"1 MHz","T":355,"e":4800},{"f":"1 MHz","T":360,"e":5000},{"f":"1 MHz","T":365,"e":5200},{"f":"1 MHz","T":370,"e":5300},{"f":"1 MHz","T":375,"e":5500}
],
"p3":[
{"f":"1 kHz","T":30,"e":4000},{"f":"1 kHz","T":35,"e":4200},{"f":"1 kHz","T":40,"e":4400},{"f":"1 kHz","T":45,"e":4600},{"f":"1 kHz","T":50,"e":4800},{"f":"1 kHz","T":55,"e":5000},{"f":"1 kHz","T":60,"e":5300},{"f":"1 kHz","T":65,"e":5500},{"f":"1 kHz","T":70,"e":5800},{"f":"1 kHz","T":75,"e":6100},
{"f":"1 kHz","T":80,"e":6300},{"f":"1 kHz","T":85,"e":6600},{"f":"1 kHz","T":90,"e":6800},{"f":"1 kHz","T":95,"e":7100},{"f":"1 kHz","T":100,"e":7400},{"f":"1 kHz","T":105,"e":7700},{"f":"1 kHz","T":110,"e":8000},{"f":"1 kHz","T":115,"e":8300},{"f":"1 kHz","T":120,"e":8700},{"f":"1 kHz","T":125,"e":9000},
{"f":"1 kHz","T":130,"e":9300},{"f":"1 kHz","T":135,"e":9700},{"f":"1 kHz","T":140,"e":10000},{"f":"1 kHz","T":145,"e":10400},{"f":"1 kHz","T":150,"e":10700},{"f":"1 kHz","T":155,"e":11100},{"f":"1 kHz","T":160,"e":11500},{"f":"1 kHz","T":165,"e":11900},{"f":"1 kHz","T":170,"e":12300},{"f":"1 kHz","T":175,"e":12700},
{"f":"1 kHz","T":180,"e":13100},{"f":"1 kHz","T":185,"e":13500},{"f":"1 kHz","T":190,"e":13900},{"f":"1 kHz","T":195,"e":14300},{"f":"1 kHz","T":200,"e":14700},{"f":"1 kHz","T":205,"e":15100},{"f":"1 kHz","T":210,"e":15500},{"f":"1 kHz","T":215,"e":15900},{"f":"1 kHz","T":220,"e":16300},{"f":"1 kHz","T":225,"e":16700},
{"f":"1 kHz","T":230,"e":17100},{"f":"1 kHz","T":235,"e":17500},{"f":"1 kHz","T":240,"e":17800},{"f":"1 kHz","T":245,"e":18200},{"f":"1 kHz","T":250,"e":18500},{"f":"1 kHz","T":255,"e":18800},{"f":"1 kHz","T":260,"e":19100},{"f":"1 kHz","T":265,"e":19400},{"f":"1 kHz","T":270,"e":19700},{"f":"1 kHz","T":275,"e":19900},
{"f":"1 kHz","T":280,"e":20200},{"f":"1 kHz","T":285,"e":20400},{"f":"1 kHz","T":290,"e":20600},{"f":"1 kHz","T":295,"e":20800},{"f":"1 kHz","T":300,"e":21000},{"f":"1 kHz","T":305,"e":21200},{"f":"1 kHz","T":310,"e":21400},{"f":"1 kHz","T":315,"e":21600},{"f":"1 kHz","T":320,"e":21800},{"f":"1 kHz","T":325,"e":21900},
{"f":"1 kHz","T":330,"e":22000},{"f":"1 kHz","T":335,"e":22100},{"f":"1 kHz","T":340,"e":22200},{"f":"1 kHz","T":345,"e":22300},{"f":"1 kHz","T":350,"e":22300},{"f":"1 kHz","T":355,"e":22300},{"f":"1 kHz","T":360,"e":22300},{"f":"1 kHz","T":365,"e":22200},{"f":"1 kHz","T":370,"e":22100},{"f":"1 kHz","T":375,"e":22000},
{"f":"10 kHz","T":30,"e":2800},{"f":"10 kHz","T":35,"e":2900},{"f":"10 kHz","T":40,"e":3000},{"f":"10 kHz","T":45,"e":3100},{"f":"10 kHz","T":50,"e":3200},{"f":"10 kHz","T":55,"e":3300},{"f":"10 kHz","T":60,"e":3400},{"f":"10 kHz","T":65,"e":3500},{"f":"10 kHz","T":70,"e":3700},{"f":"10 kHz","T":75,"e":3800},
{"f":"10 kHz","T":80,"e":3900},{"f":"10 kHz","T":85,"e":4000},{"f":"10 kHz","T":90,"e":4200},{"f":"10 kHz","T":95,"e":4300},{"f":"10 kHz","T":100,"e":4500},{"f":"10 kHz","T":105,"e":4700},{"f":"10 kHz","T":110,"e":4900},{"f":"10 kHz","T":115,"e":5100},{"f":"10 kHz","T":120,"e":5300},{"f":"10 kHz","T":125,"e":5500},
{"f":"10 kHz","T":130,"e":5800},{"f":"10 kHz","T":135,"e":6000},{"f":"10 kHz","T":140,"e":6300},{"f":"10 kHz","T":145,"e":6500},{"f":"10 kHz","T":150,"e":6800},{"f":"10 kHz","T":155,"e":7000},{"f":"10 kHz","T":160,"e":7300},{"f":"10 kHz","T":165,"e":7600},{"f":"10 kHz","T":170,"e":7900},{"f":"10 kHz","T":175,"e":8200},
{"f":"10 kHz","T":180,"e":8500},{"f":"10 kHz","T":185,"e":8800},{"f":"10 kHz","T":190,"e":9100},{"f":"10 kHz","T":195,"e":9400},{"f":"10 kHz","T":200,"e":9700},{"f":"10 kHz","T":205,"e":10000},{"f":"10 kHz","T":210,"e":10300},{"f":"10 kHz","T":215,"e":10600},{"f":"10 kHz","T":220,"e":10900},{"f":"10 kHz","T":225,"e":11200},
{"f":"10 kHz","T":230,"e":11500},{"f":"10 kHz","T":235,"e":11800},{"f":"10 kHz","T":240,"e":12100},{"f":"10 kHz","T":245,"e":12400},{"f":"10 kHz","T":250,"e":12700},{"f":"10 kHz","T":255,"e":13000},{"f":"10 kHz","T":260,"e":13300},{"f":"10 kHz","T":265,"e":13600},{"f":"10 kHz","T":270,"e":13900},{"f":"10 kHz","T":275,"e":14100},
{"f":"10 kHz","T":280,"e":14400},{"f":"10 kHz","T":285,"e":14700},{"f":"10 kHz","T":290,"e":15000},{"f":"10 kHz","T":295,"e":15200},{"f":"10 kHz","T":300,"e":15500},{"f":"10 kHz","T":305,"e":15800},{"f":"10 kHz","T":310,"e":16000},{"f":"10 kHz","T":315,"e":16300},{"f":"10 kHz","T":320,"e":16500},{"f":"10 kHz","T":325,"e":16800},
{"f":"10 kHz","T":330,"e":17000},{"f":"10 kHz","T":335,"e":17200},{"f":"10 kHz","T":340,"e":17400},{"f":"10 kHz","T":345,"e":17600},{"f":"10 kHz","T":350,"e":17800},{"f":"10 kHz","T":355,"e":17900},{"f":"10 kHz","T":360,"e":18000},{"f":"10 kHz","T":365,"e":18000},{"f":"10 kHz","T":370,"e":18000},{"f":"10 kHz","T":375,"e":18000},
{"f":"100 kHz","T":30,"e":1500},{"f":"100 kHz","T":35,"e":1500},{"f":"100 kHz","T":40,"e":1600},{"f":"100 kHz","T":45,"e":1600},{"f":"100 kHz","T":50,"e":1700},{"f":"100 kHz","T":55,"e":1700},{"f":"100 kHz","T":60,"e":1800},{"f":"100 kHz","T":65,"e":1900},{"f":"100 kHz","T":70,"e":2000},{"f":"100 kHz","T":75,"e":2100},
{"f":"100 kHz","T":80,"e":2200},{"f":"100 kHz","T":85,"e":2200},{"f":"100 kHz","T":90,"e":2300},{"f":"100 kHz","T":95,"e":2400},{"f":"100 kHz","T":100,"e":2500},{"f":"100 kHz","T":105,"e":2600},{"f":"100 kHz","T":110,"e":2800},{"f":"100 kHz","T":115,"e":2900},{"f":"100 kHz","T":120,"e":3100},{"f":"100 kHz","T":125,"e":3200},
{"f":"100 kHz","T":130,"e":3400},{"f":"100 kHz","T":135,"e":3500},{"f":"100 kHz","T":140,"e":3700},{"f":"100 kHz","T":145,"e":3900},{"f":"100 kHz","T":150,"e":4000},{"f":"100 kHz","T":155,"e":4200},{"f":"100 kHz","T":160,"e":4400},{"f":"100 kHz","T":165,"e":4600},{"f":"100 kHz","T":170,"e":4800},{"f":"100 kHz","T":175,"e":5000},
{"f":"100 kHz","T":180,"e":5200},{"f":"100 kHz","T":185,"e":5400},{"f":"100 kHz","T":190,"e":5600},{"f":"100 kHz","T":195,"e":5800},{"f":"100 kHz","T":200,"e":6000},{"f":"100 kHz","T":205,"e":6200},{"f":"100 kHz","T":210,"e":6500},{"f":"100 kHz","T":215,"e":6700},{"f":"100 kHz","T":220,"e":7000},{"f":"100 kHz","T":225,"e":7200},
{"f":"100 kHz","T":230,"e":7400},{"f":"100 kHz","T":235,"e":7700},{"f":"100 kHz","T":240,"e":7900},{"f":"100 kHz","T":245,"e":8200},{"f":"100 kHz","T":250,"e":8400},{"f":"100 kHz","T":255,"e":8700},{"f":"100 kHz","T":260,"e":8900},{"f":"100 kHz","T":265,"e":9200},{"f":"100 kHz","T":270,"e":9400},{"f":"100 kHz","T":275,"e":9700},
{"f":"100 kHz","T":280,"e":9900},{"f":"100 kHz","T":285,"e":10200},{"f":"100 kHz","T":290,"e":10400},{"f":"100 kHz","T":295,"e":10700},{"f":"100 kHz","T":300,"e":10900},{"f":"100 kHz","T":305,"e":11100},{"f":"100 kHz","T":310,"e":11300},{"f":"100 kHz","T":315,"e":11500},{"f":"100 kHz","T":320,"e":11800},{"f":"100 kHz","T":325,"e":12000},
{"f":"100 kHz","T":330,"e":12200},{"f":"100 kHz","T":335,"e":12400},{"f":"100 kHz","T":340,"e":12600},{"f":"100 kHz","T":345,"e":12800},{"f":"100 kHz","T":350,"e":13000},{"f":"100 kHz","T":355,"e":13200},{"f":"100 kHz","T":360,"e":13500},{"f":"100 kHz","T":365,"e":13700},{"f":"100 kHz","T":370,"e":14000},{"f":"100 kHz","T":375,"e":14200},
{"f":"500 kHz","T":30,"e":1000},{"f":"500 kHz","T":35,"e":1000},{"f":"500 kHz","T":40,"e":1000},{"f":"500 kHz","T":45,"e":1100},{"f":"500 kHz","T":50,"e":1100},{"f":"500 kHz","T":55,"e":1100},{"f":"500 kHz","T":60,"e":1100},{"f":"500 kHz","T":65,"e":1200},{"f":"500 kHz","T":70,"e":1200},{"f":"500 kHz","T":75,"e":1200},
{"f":"500 kHz","T":80,"e":1200},{"f":"500 kHz","T":85,"e":1300},{"f":"500 kHz","T":90,"e":1300},{"f":"500 kHz","T":95,"e":1300},{"f":"500 kHz","T":100,"e":1300},{"f":"500 kHz","T":105,"e":1400},{"f":"500 kHz","T":110,"e":1400},{"f":"500 kHz","T":115,"e":1400},{"f":"500 kHz","T":120,"e":1400},{"f":"500 kHz","T":125,"e":1500},
{"f":"500 kHz","T":130,"e":1500},{"f":"500 kHz","T":135,"e":1500},{"f":"500 kHz","T":140,"e":1500},{"f":"500 kHz","T":145,"e":1600},{"f":"500 kHz","T":150,"e":1600},{"f":"500 kHz","T":155,"e":1600},{"f":"500 kHz","T":160,"e":1600},{"f":"500 kHz","T":165,"e":1700},{"f":"500 kHz","T":170,"e":1700},{"f":"500 kHz","T":175,"e":1700},
{"f":"500 kHz","T":180,"e":1700},{"f":"500 kHz","T":185,"e":1700},{"f":"500 kHz","T":190,"e":1800},{"f":"500 kHz","T":195,"e":1800},{"f":"500 kHz","T":200,"e":1800},{"f":"500 kHz","T":205,"e":1900},{"f":"500 kHz","T":210,"e":1900},{"f":"500 kHz","T":215,"e":2000},{"f":"500 kHz","T":220,"e":2000},{"f":"500 kHz","T":225,"e":2100},
{"f":"500 kHz","T":230,"e":2200},{"f":"500 kHz","T":235,"e":2200},{"f":"500 kHz","T":240,"e":2300},{"f":"500 kHz","T":245,"e":2400},{"f":"500 kHz","T":250,"e":2500},{"f":"500 kHz","T":255,"e":2500},{"f":"500 kHz","T":260,"e":2600},{"f":"500 kHz","T":265,"e":2700},{"f":"500 kHz","T":270,"e":2800},{"f":"500 kHz","T":275,"e":2900},
{"f":"500 kHz","T":280,"e":3000},{"f":"500 kHz","T":285,"e":3100},{"f":"500 kHz","T":290,"e":3100},{"f":"500 kHz","T":295,"e":3200},{"f":"500 kHz","T":300,"e":3300},{"f":"500 kHz","T":305,"e":3400},{"f":"500 kHz","T":310,"e":3500},{"f":"500 kHz","T":315,"e":3700},{"f":"500 kHz","T":320,"e":3800},{"f":"500 kHz","T":325,"e":3900},
{"f":"500 kHz","T":330,"e":4100},{"f":"500 kHz","T":335,"e":4200},{"f":"500 kHz","T":340,"e":4400},{"f":"500 kHz","T":345,"e":4500},{"f":"500 kHz","T":350,"e":4700},{"f":"500 kHz","T":355,"e":4800},{"f":"500 kHz","T":360,"e":5000},{"f":"500 kHz","T":365,"e":5200},{"f":"500 kHz","T":370,"e":5300},{"f":"500 kHz","T":375,"e":5500},
{"f":"1 MHz","T":30,"e":800},{"f":"1 MHz","T":35,"e":800},{"f":"1 MHz","T":40,"e":800},{"f":"1 MHz","T":45,"e":800},{"f":"1 MHz","T":50,"e":900},{"f":"1 MHz","T":55,"e":900},{"f":"1 MHz","T":60,"e":900},{"f":"1 MHz","T":65,"e":900},{"f":"1 MHz","T":70,"e":900},{"f":"1 MHz","T":75,"e":1000},
{"f":"1 MHz","T":80,"e":1000},{"f":"1 MHz","T":85,"e":1000},{"f":"1 MHz","T":90,"e":1000},{"f":"1 MHz","T":95,"e":1000},{"f":"1 MHz","T":100,"e":1100},{"f":"1 MHz","T":105,"e":1100},{"f":"1 MHz","T":110,"e":1100},{"f":"1 MHz","T":115,"e":1100},{"f":"1 MHz","T":120,"e":1100},{"f":"1 MHz","T":125,"e":1200},
{"f":"1 MHz","T":130,"e":1200},{"f":"1 MHz","T":135,"e":1200},{"f":"1 MHz","T":140,"e":1200},{"f":"1 MHz","T":145,"e":1200},{"f":"1 MHz","T":150,"e":1300},{"f":"1 MHz","T":155,"e":1300},{"f":"1 MHz","T":160,"e":1300},{"f":"1 MHz","T":165,"e":1300},{"f":"1 MHz","T":170,"e":1400},{"f":"1 MHz","T":175,"e":1400},
{"f":"1 MHz","T":180,"e":1400},{"f":"1 MHz","T":185,"e":1400},{"f":"1 MHz","T":190,"e":1400},{"f":"1 MHz","T":195,"e":1500},{"f":"1 MHz","T":200,"e":1500},{"f":"1 MHz","T":205,"e":1500},{"f":"1 MHz","T":210,"e":1500},{"f":"1 MHz","T":215,"e":1600},{"f":"1 MHz","T":220,"e":1600},{"f":"1 MHz","T":225,"e":1700},
{"f":"1 MHz","T":230,"e":1700},{"f":"1 MHz","T":235,"e":1700},{"f":"1 MHz","T":240,"e":1800},{"f":"1 MHz","T":245,"e":1800},{"f":"1 MHz","T":250,"e":1900},{"f":"1 MHz","T":255,"e":1900},{"f":"1 MHz","T":260,"e":2000},{"f":"1 MHz","T":265,"e":2000},{"f":"1 MHz","T":270,"e":2100},{"f":"1 MHz","T":275,"e":2200},
{"f":"1 MHz","T":280,"e":2200},{"f":"1 MHz","T":285,"e":2300},{"f":"1 MHz","T":290,"e":2300},{"f":"1 MHz","T":295,"e":2400},{"f":"1 MHz","T":300,"e":2500},{"f":"1 MHz","T":305,"e":2500},{"f":"1 MHz","T":310,"e":2600},{"f":"1 MHz","T":315,"e":2700},{"f":"1 MHz","T":320,"e":2800},{"f":"1 MHz","T":325,"e":2900},
{"f":"1 MHz","T":330,"e":3000},{"f":"1 MHz","T":335,"e":3100},{"f":"1 MHz","T":340,"e":3200},{"f":"1 MHz","T":345,"e":3300},{"f":"1 MHz","T":350,"e":3400},{"f":"1 MHz","T":355,"e":3500},{"f":"1 MHz","T":360,"e":3600},{"f":"1 MHz","T":365,"e":3700},{"f":"1 MHz","T":370,"e":3900},{"f":"1 MHz","T":375,"e":4000}
]
},
"columns":2,
"bounds":"flush",
"spacing":{"row":32,"column":31},
"resolve":{"scale":{"color":"independent","shape":"independent"},"legend":{"color":"independent","shape":"independent"}},
"concat":[
{"width":362,"height":253,"data":{"name":"p0"},
"layer":[
{"mark":{"type":"point","filled":false,"size":38,"strokeWidth":1,"opacity":1},
"encoding":{
"x":{"field":"T","type":"quantitative","scale":{"domain":[29,376],"nice":false,"zero":false},"axis":{"values":[50,100,150,200,250,300,350],"labelExpr":"datum.value % 100 === 0 ? datum.label : ''","title":null}},
"y":{"field":"e","type":"quantitative","scale":{"domain":[0,140000],"nice":false},"axis":{"orient":"left","format":"d","values":[0,15000,30000,45000,60000,75000,90000,105000,120000,135000],"labelExpr":"datum.value % 30000 === 0 ? datum.label : ''","title":"Dielectric constant","titlePadding":12}},
"color":{"field":"f","type":"nominal","sort":null,"scale":{"domain":["1 kHz","10 kHz","100 kHz","500 kHz","1 MHz"],"range":["#000000","#ff0000","#00ff00","#0000ff","#ff00ff"]},"legend":{"legendX":28,"legendY":5}},
"shape":{"field":"f","type":"nominal","sort":null,"scale":{"domain":["1 kHz","10 kHz","100 kHz","500 kHz","1 MHz"],"range":["square","circle","triangle-up","triangle-down","diamond"]},"legend":{"legendX":28,"legendY":5}}
}},
{"mark":{"type":"text","font":"Liberation Sans","fontWeight":"bold","fontSize":20,"fill":"#0a0aff","align":"right","baseline":"middle","text":"= 0.0"},
"encoding":{"x":{"datum":367,"type":"quantitative"},"y":{"datum":129500,"type":"quantitative"}}},
{"mark":{"type":"text","font":"Liberation Sans","fontWeight":"bold","fontStyle":"italic","fontSize":20,"fill":"#0a0aff","align":"right","baseline":"middle","dx":-49,"text":"x"},
"encoding":{"x":{"datum":367,"type":"quantitative"},"y":{"datum":129500,"type":"quantitative"}}}
]},
{"width":362,"height":253,"data":{"name":"p1"},
"layer":[
{"mark":{"type":"point","filled":false,"size":38,"strokeWidth":1,"opacity":1},
"encoding":{
"x":{"field":"T","type":"quantitative","scale":{"domain":[29,376],"nice":false,"zero":false},"axis":{"values":[50,100,150,200,250,300,350],"labelExpr":"datum.value % 100 === 0 ? datum.label : ''","title":null}},
"y":{"field":"e","type":"quantitative","scale":{"domain":[0,140000],"nice":false},"axis":{"orient":"right","format":"d","values":[0,15000,30000,45000,60000,75000,90000,105000,120000,135000],"labelExpr":"datum.value % 30000 === 0 ? datum.label : ''","title":"Dielectric constant","titleAngle":270,"titlePadding":33}},
"color":{"field":"f","type":"nominal","sort":null,"scale":{"domain":["1 kHz","10 kHz","100 kHz","500 kHz","1 MHz"],"range":["#000000","#ff0000","#00ff00","#0000ff","#ff00ff"]},"legend":{"legendX":11,"legendY":6}},
"shape":{"field":"f","type":"nominal","sort":null,"scale":{"domain":["1 kHz","10 kHz","100 kHz","500 kHz","1 MHz"],"range":["square","circle","triangle-up","triangle-down","diamond"]},"legend":{"legendX":11,"legendY":6}}
}},
{"mark":{"type":"text","font":"Liberation Sans","fontWeight":"bold","fontSize":20,"fill":"#0a0aff","align":"right","baseline":"middle","text":"= 0.1"},
"encoding":{"x":{"datum":365,"type":"quantitative"},"y":{"datum":129500,"type":"quantitative"}}},
{"mark":{"type":"text","font":"Liberation Sans","fontWeight":"bold","fontStyle":"italic","fontSize":20,"fill":"#0a0aff","align":"right","baseline":"middle","dx":-49,"text":"x"},
"encoding":{"x":{"datum":365,"type":"quantitative"},"y":{"datum":129500,"type":"quantitative"}}}
]},
{"width":362,"height":253,"data":{"name":"p2"},
"layer":[
{"mark":{"type":"point","filled":false,"size":38,"strokeWidth":1,"opacity":1},
"encoding":{
"x":{"field":"T","type":"quantitative","scale":{"domain":[29,376],"nice":false,"zero":false},"axis":{"values":[50,100,150,200,250,300,350],"labelExpr":"datum.value % 100 === 0 ? datum.label : ''","title":"Temperature (°c)","titleFontSize":20,"titlePadding":17}},
"y":{"field":"e","type":"quantitative","scale":{"domain":[0,140000],"nice":false},"axis":{"orient":"left","format":"d","values":[0,15000,30000,45000,60000,75000,90000,105000,120000,135000],"labelExpr":"datum.value % 30000 === 0 ? datum.label : ''","title":"Dielectric constant","titlePadding":12}},
"color":{"field":"f","type":"nominal","sort":null,"scale":{"domain":["1 kHz","10 kHz","100 kHz","500 kHz","1 MHz"],"range":["#000000","#ff0000","#00ff00","#0000ff","#ff00ff"]},"legend":{"legendX":13,"legendY":11}},
"shape":{"field":"f","type":"nominal","sort":null,"scale":{"domain":["1 kHz","10 kHz","100 kHz","500 kHz","1 MHz"],"range":["square","circle","triangle-up","triangle-down","diamond"]},"legend":{"legendX":13,"legendY":11}}
}},
{"mark":{"type":"text","font":"Liberation Sans","fontWeight":"bold","fontSize":20,"fill":"#0a0aff","align":"right","baseline":"middle","text":"= 0.3"},
"encoding":{"x":{"datum":367,"type":"quantitative"},"y":{"datum":129500,"type":"quantitative"}}},
{"mark":{"type":"text","font":"Liberation Sans","fontWeight":"bold","fontStyle":"italic","fontSize":20,"fill":"#0a0aff","align":"right","baseline":"middle","dx":-49,"text":"x"},
"encoding":{"x":{"datum":367,"type":"quantitative"},"y":{"datum":129500,"type":"quantitative"}}}
]},
{"width":362,"height":253,"data":{"name":"p3"},
"layer":[
{"mark":{"type":"point","filled":false,"size":38,"strokeWidth":1,"opacity":1},
"encoding":{
"x":{"field":"T","type":"quantitative","scale":{"domain":[29,376],"nice":false,"zero":false},"axis":{"values":[50,100,150,200,250,300,350],"labelExpr":"datum.value % 100 === 0 ? datum.label : ''","title":"Temperature (°c)","titleFontSize":20,"titlePadding":17}},
"y":{"field":"e","type":"quantitative","scale":{"domain":[0,140000],"nice":false},"axis":{"orient":"right","format":"d","values":[0,15000,30000,45000,60000,75000,90000,105000,120000,135000],"labelExpr":"datum.value % 30000 === 0 ? datum.label : ''","title":"Dielectric constant","titleAngle":270,"titlePadding":33}},
"color":{"field":"f","type":"nominal","sort":null,"scale":{"domain":["1 kHz","10 kHz","100 kHz","500 kHz","1 MHz"],"range":["#000000","#ff0000","#00ff00","#0000ff","#ff00ff"]},"legend":{"legendX":8,"legendY":7}},
"shape":{"field":"f","type":"nominal","sort":null,"scale":{"domain":["1 kHz","10 kHz","100 kHz","500 kHz","1 MHz"],"range":["square","circle","triangle-up","triangle-down","diamond"]},"legend":{"legendX":8,"legendY":7}}
}},
{"mark":{"type":"text","font":"Liberation Sans","fontWeight":"bold","fontSize":20,"fill":"#0a0aff","align":"right","baseline":"middle","text":"= 0.5"},
"encoding":{"x":{"datum":368,"type":"quantitative"},"y":{"datum":131000,"type":"quantitative"}}},
{"mark":{"type":"text","font":"Liberation Sans","fontWeight":"bold","fontStyle":"italic","fontSize":20,"fill":"#0a0aff","align":"right","baseline":"middle","dx":-49,"text":"x"},
"encoding":{"x":{"datum":368,"type":"quantitative"},"y":{"datum":131000,"type":"quantitative"}}}
]}
]
}
